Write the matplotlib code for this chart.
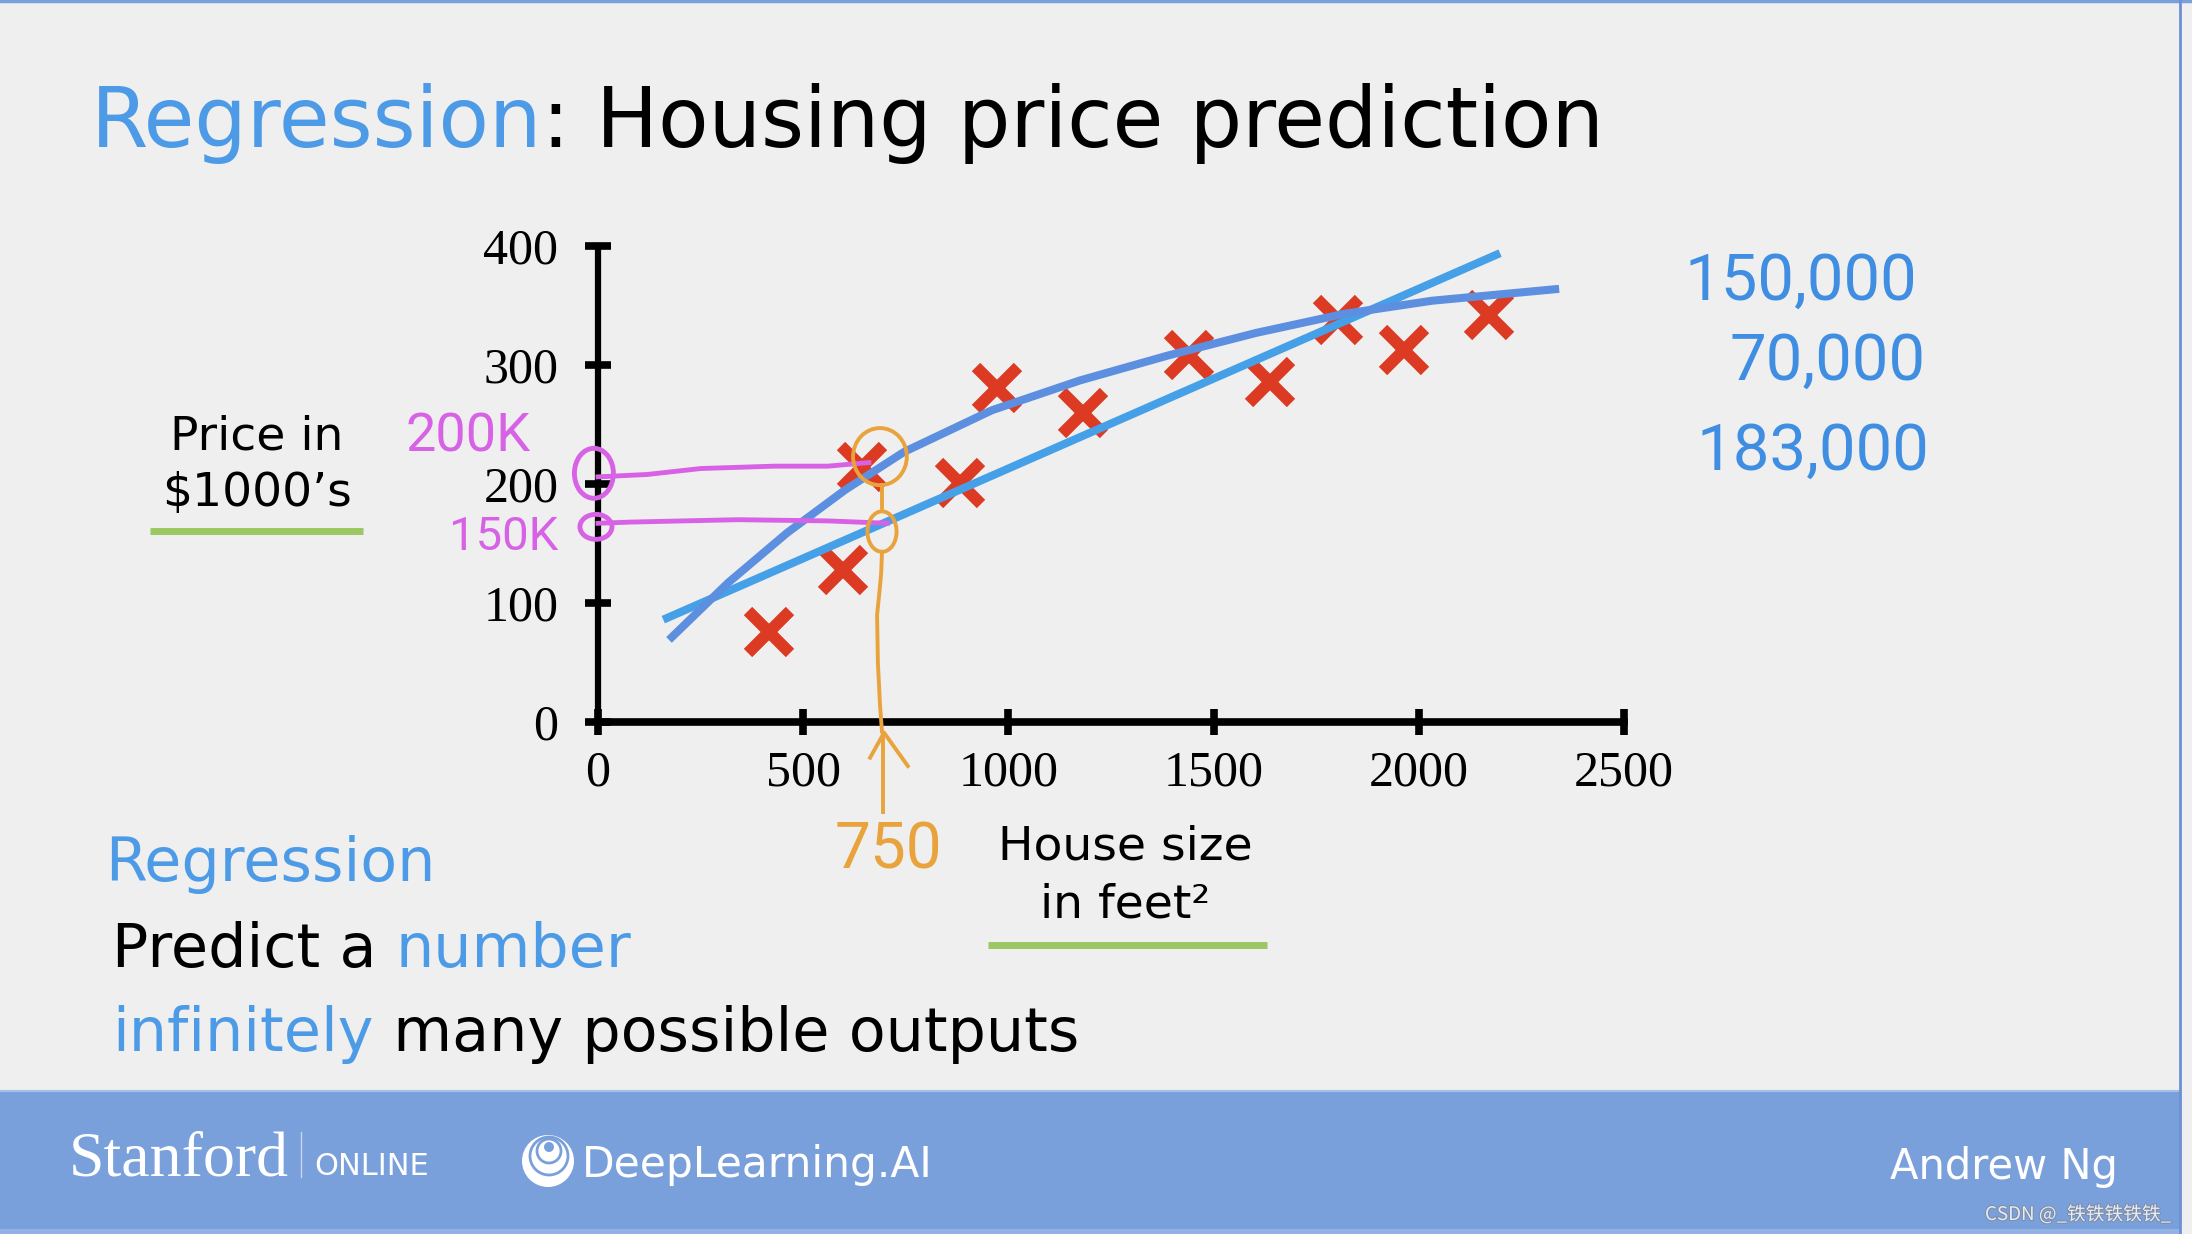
import matplotlib
matplotlib.use("Agg")
import matplotlib.pyplot as plt
from matplotlib.patches import Rectangle, Ellipse, Circle
import matplotlib.patheffects as pe

# ---- data ----
SIZES = [417, 597, 643, 882, 972, 1182, 1440, 1637, 1802, 1964, 2170]
PRICES = [76, 128, 214, 201, 281, 260, 308, 286, 338, 313, 342]

LINE_X = [159, 2198]
LINE_Y = [86, 394]

CURVE_X = [173, 317, 461, 602, 746, 960, 1174, 1389, 1604, 1818, 2032, 2342]
CURVE_Y = [69, 117, 159, 195, 227, 262, 287, 308, 327, 343, 354, 364]

X_TICKS = [0, 500, 1000, 1500, 2000, 2500]
Y_TICKS = [0, 100, 200, 300, 400]

# hand-drawn annotations (data units)
PINK_HI_X = [0, 120, 250, 430, 560, 660]
PINK_HI_Y = [206, 208, 213, 215, 215, 218]
PINK_LO_X = [0, 80, 340, 560, 705]
PINK_LO_Y = [167, 168, 170, 169, 167]
ORANGE_X = [692, 690, 686, 680, 682, 687, 692]
ORANGE_Y = [143, 125, 110, 90, 50, 15, -8]
ORANGE_MID_X = [692, 692]
ORANGE_MID_Y = [199, 177]
ARROW_SHAFT_X = [694, 694]
ARROW_SHAFT_Y = [-9, -76]
ARROW_HEAD_X = [663, 697, 755]
ARROW_HEAD_Y = [-30, -9, -37]
RIGHT_NOTES = ["150,000", "70,000", "183,000"]

BG = "#efefef"
BAND = "#7aa0dc"
BLUE_TXT = "#4d9be6"
PINK = "#d862e6"
ORANGE = "#e9a33c"
GREEN = "#9bc862"

fig = plt.figure(figsize=(21.92, 12.34), dpi=100)
fig.patch.set_facecolor(BG)

bg = fig.add_axes([0, 0, 1, 1], zorder=0)
bg.set_xlim(0, 2192)
bg.set_ylim(1234, 0)
bg.axis("off")

# footer band and window border
bg.add_patch(Rectangle((0, 1090), 2180, 144, color=BAND, lw=0))
bg.add_patch(Rectangle((0, 1229), 2180, 5, color="#93b2e4", lw=0))
bg.plot([0, 2180], [1091, 1091], color="#a6bfe8", lw=1.5)
bg.plot([0, 2192], [1, 1], color=BAND, lw=2.5)
bg.plot([2180, 2180], [0, 1234], color="#6c90d2", lw=2)

fig.canvas.draw()
rend = fig.canvas.get_renderer()


def two_tone(x, y, first, second, c1, c2, size):
    t1 = bg.text(x, y, first, color=c1, fontsize=size, va="baseline",
                 family="DejaVu Sans")
    w = t1.get_window_extent(rend).width
    bg.text(x + w, y, second, color=c2, fontsize=size, va="baseline",
            family="DejaVu Sans")


two_tone(91, 147, "Regression", ": Housing price prediction", BLUE_TXT, "black", 59.5)
bg.text(105, 881, "Regression", color=BLUE_TXT, fontsize=43.5, va="baseline")
two_tone(112, 967, "Predict a ", "number", "black", BLUE_TXT, 43.5)
two_tone(112, 1051, "infinitely", " many possible outputs", BLUE_TXT, "black", 43.5)

# axis captions with green underlines
bg.text(257, 450, "Price in", fontsize=34, ha="center", va="baseline")
bg.text(257, 506, "$1000\u2019s", fontsize=34, ha="center", va="baseline")
bg.plot([150, 363], [531, 531], color=GREEN, lw=5, solid_capstyle="butt")
bg.text(1125, 860, "House size", fontsize=34, ha="center", va="baseline")
bg.text(1125, 917, "in feet\u00b2", fontsize=34, ha="center", va="baseline")
bg.plot([988, 1267], [945, 945], color=GREEN, lw=5, solid_capstyle="butt")

# handwritten notes
hand = dict(family="Roboto", fontweight="normal")
bg.text(405, 451, "200K", color=PINK, fontsize=39, va="baseline", **hand)
bg.text(449, 550, "150K", color=PINK, fontsize=34, va="baseline", **hand)
for (x, y), s in zip([(1684, 300), (1730, 380), (1696, 470)], RIGHT_NOTES):
    bg.text(x, y, s, color="#3f8ee2", fontsize=47, va="baseline", **hand)

# footer text
white = "white"
bg.text(69, 1175, "Stanford", color=white, fontsize=46, va="baseline",
        family="Liberation Serif")
bg.plot([301, 301], [1132, 1177], color="#c8d6f0", lw=1)
bg.text(314, 1175, "ONLINE", color=white, fontsize=22, va="baseline")
bg.add_patch(Circle((548, 1161), 26, color=white, lw=0))
bg.add_patch(Circle((549, 1156), 19, fill=False, ec=BAND, lw=2))
bg.add_patch(Circle((549, 1151), 12, fill=False, ec=BAND, lw=2))
bg.add_patch(Circle((549, 1147), 5, color=BAND, lw=0))
bg.text(582, 1177, "DeepLearning.AI", color=white, fontsize=30.5, va="baseline")
bg.text(1890, 1179, "Andrew Ng", color=white, fontsize=30, va="baseline")
bg.text(1985, 1220, "CSDN @_铁铁铁铁铁_", color="#e8ecf2", fontsize=13.5,
        va="baseline", family=["Noto Sans CJK SC", "DejaVu Sans"],
        path_effects=[pe.withStroke(linewidth=1.5, foreground="#7d8da8")])

# ---- the chart ----
W, H = 2192, 1234
ax = fig.add_axes([598 / W, 1 - 722 / H, (1624 - 598) / W, (722 - 246) / H], zorder=2)
ax.set_facecolor("none")
ax.set_xlim(0, 2500)
ax.set_ylim(0, 400)
for s in ("top", "right"):
    ax.spines[s].set_visible(False)
ax.spines["left"].set_linewidth(4.5)
ax.spines["bottom"].set_linewidth(5.5)
ax.set_xticks(X_TICKS)
ax.set_yticks(Y_TICKS)
ax.tick_params(axis="both", direction="inout", length=19, width=5.5,
               labelsize=36)
ax.tick_params(axis="y", pad=19)
ax.tick_params(axis="x", pad=11)
for lab in ax.get_xticklabels() + ax.get_yticklabels():
    lab.set_family("Liberation Serif")

ax.plot(SIZES, PRICES, ls="none", marker="x", ms=30, mew=8.5,
        color="#dc3a22", zorder=3)
ax.plot(LINE_X, LINE_Y, color="#45a0e8", lw=5.8, solid_capstyle="butt", zorder=4)
ax.plot(CURVE_X, CURVE_Y, color="#5d8fe0", lw=5.8, solid_capstyle="butt",
        solid_joinstyle="round", zorder=4)

# pink read-offs
ax.plot(PINK_HI_X, PINK_HI_Y, color=PINK, lw=3.5, zorder=5, clip_on=False)
ax.plot(PINK_LO_X, PINK_LO_Y, color=PINK, lw=3.5, zorder=5, clip_on=False)
for xy, w, h in [((-10, 209), 95, 42), ((-5, 164), 78, 21)]:
    ax.add_patch(Ellipse(xy, w, h, fill=False, ec=PINK, lw=3.5, zorder=5,
                         clip_on=False))

# orange read-offs
for xy, w, h in [((687, 223), 131, 48), ((692, 160), 71, 34)]:
    ax.add_patch(Ellipse(xy, w, h, fill=False, ec=ORANGE, lw=2.8, zorder=6,
                         clip_on=False))
for xs, ys in [(ORANGE_X, ORANGE_Y), (ORANGE_MID_X, ORANGE_MID_Y),
               (ARROW_SHAFT_X, ARROW_SHAFT_Y), (ARROW_HEAD_X, ARROW_HEAD_Y)]:
    ax.plot(xs, ys, color=ORANGE, lw=2.8, zorder=6, clip_on=False)
ax.text(708, -108, "750", color=ORANGE, fontsize=46, ha="center", va="center",
        clip_on=False, **hand)

fig.savefig("out.png", dpi=100, facecolor=BG)
